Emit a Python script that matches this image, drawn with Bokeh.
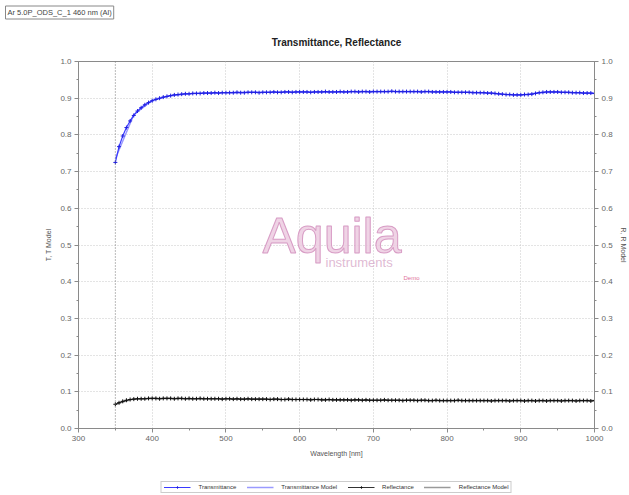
from bokeh.plotting import figure
from bokeh.layouts import column
from bokeh.models import (Range1d, LinearAxis, SingleIntervalTicker, Label, Span,
                          Legend, LegendItem, ColumnDataSource, Title, PrintfTickFormatter)
from bokeh.embed import file_html
from bokeh.resources import INLINE

# ---- measured spectra (5 nm steps, 350..1000 nm) ----
wavelength = list(range(350, 1001, 5))
transmittance = [
    0.725, 0.768, 0.797, 0.820, 0.838, 0.853, 0.865, 0.874, 0.882, 0.888,
    0.893, 0.897, 0.900, 0.903, 0.905, 0.907, 0.909, 0.910, 0.911, 0.912,
    0.912, 0.913, 0.913, 0.913, 0.914, 0.914, 0.914, 0.915, 0.914, 0.915,
    0.915, 0.915, 0.915, 0.916, 0.915, 0.915, 0.916, 0.916, 0.916, 0.915,
    0.916, 0.916, 0.916, 0.917, 0.916, 0.916, 0.917, 0.917, 0.916, 0.917,
    0.917, 0.917, 0.917, 0.916, 0.917, 0.917, 0.917, 0.918, 0.917, 0.917,
    0.917, 0.918, 0.917, 0.917, 0.918, 0.918, 0.917, 0.918, 0.918, 0.917,
    0.918, 0.918, 0.918, 0.918, 0.918, 0.919, 0.918, 0.918, 0.918, 0.918,
    0.918, 0.918, 0.918, 0.917, 0.918, 0.918, 0.917, 0.917, 0.917, 0.917,
    0.917, 0.917, 0.916, 0.916, 0.916, 0.916, 0.916, 0.915, 0.915, 0.915,
    0.915, 0.914, 0.914, 0.913, 0.912, 0.911, 0.910, 0.910, 0.909, 0.909,
    0.909, 0.910, 0.910, 0.911, 0.913, 0.915, 0.916, 0.917, 0.917, 0.917,
    0.917, 0.916, 0.916, 0.916, 0.915, 0.915, 0.915, 0.914, 0.914, 0.914,
    0.913,
]
reflectance = [
    0.066, 0.070, 0.074, 0.077, 0.079, 0.080, 0.081, 0.081, 0.081, 0.082,
    0.082, 0.082, 0.081, 0.082, 0.082, 0.082, 0.081, 0.082, 0.082, 0.081,
    0.082, 0.081, 0.081, 0.082, 0.081, 0.081, 0.081, 0.081, 0.081, 0.080,
    0.081, 0.081, 0.080, 0.081, 0.080, 0.080, 0.081, 0.080, 0.080, 0.080,
    0.080, 0.080, 0.079, 0.080, 0.080, 0.079, 0.079, 0.080, 0.079, 0.079,
    0.079, 0.079, 0.079, 0.078, 0.079, 0.079, 0.078, 0.078, 0.079, 0.078,
    0.078, 0.078, 0.078, 0.078, 0.077, 0.078, 0.078, 0.077, 0.078, 0.077,
    0.077, 0.077, 0.077, 0.078, 0.077, 0.077, 0.077, 0.077, 0.076, 0.077,
    0.077, 0.077, 0.076, 0.077, 0.077, 0.076, 0.076, 0.077, 0.076, 0.076,
    0.076, 0.076, 0.076, 0.077, 0.076, 0.076, 0.076, 0.076, 0.076, 0.076,
    0.076, 0.076, 0.075, 0.076, 0.076, 0.076, 0.076, 0.075, 0.076, 0.076,
    0.076, 0.075, 0.076, 0.076, 0.075, 0.076, 0.076, 0.075, 0.076, 0.076,
    0.076, 0.075, 0.076, 0.076, 0.076, 0.075, 0.076, 0.076, 0.076, 0.075,
    0.076,
]

# ---- fitted model (25 nm steps) ----
model_wavelength = [350, 375, 400, 425, 450, 475, 500, 525, 550, 575, 600, 625, 650,
                    675, 700, 725, 750, 775, 800, 825, 850, 875, 900, 925, 950, 975, 1000]
transmittance_model = [0.735, 0.855, 0.894, 0.907, 0.912, 0.914, 0.915, 0.916, 0.916,
                       0.917, 0.917, 0.917, 0.917, 0.918, 0.918, 0.918, 0.918, 0.918,
                       0.917, 0.916, 0.915, 0.911, 0.909, 0.915, 0.917, 0.915, 0.913]
reflectance_model = [0.067, 0.080, 0.082, 0.082, 0.081, 0.081, 0.081, 0.080, 0.080,
                     0.079, 0.079, 0.079, 0.078, 0.078, 0.077, 0.077, 0.077, 0.076,
                     0.076, 0.076, 0.076, 0.076, 0.076, 0.076, 0.076, 0.076, 0.076]

series_names = ["Transmittance", "Transmittance Model", "Reflectance", "Reflectance Model"]

x_ticks_start, x_ticks_end = 300, 1000
measure_start_nm = 350
title_text = "Transmittance, Reflectance"
sample_text = "Ar 5.0P_ODS_C_1 460 nm (Al)"

FONT = "Liberation Sans"
AXIS_GREY = "#8a8a8a"
TICK_TEXT = "#666666"
T_COLOR, T_MARK, TM_COLOR = "#3a3aff", "#2020e0", "#9a9aff"
R_COLOR, R_MARK, RM_COLOR = "#333333", "#111111", "#9a9a9a"

p = figure(width=629, height=478, output_backend="svg", toolbar_location=None,
           x_range=Range1d(x_ticks_start, x_ticks_end), y_range=Range1d(0, 1),
           min_border_left=78, min_border_right=28, min_border_top=61, min_border_bottom=50,
           background_fill_color="white", border_fill_color="white",
           outline_line_color=AXIS_GREY, outline_line_width=1)
p.extra_y_ranges = {"r": Range1d(0, 1)}

# sample tag at the very top, chart title below it (closest to the frame)
p.title.text = sample_text
p.title.align = "left"
p.title.offset = -73
p.title.standoff = 5
p.title.text_font = FONT
p.title.text_font_size = "7.5px"
p.title.text_font_style = "normal"
p.title.text_color = "#444444"
p.title.border_line_color = "#888888"
p.title.background_fill_color = "white"
p.title.padding = 2
p.add_layout(Title(text=title_text, align="center", standoff=27,
                   text_font=FONT, text_font_size="10px", text_font_style="bold",
                   text_color="#222222"), "above")

x_ticker = SingleIntervalTicker(interval=100, num_minor_ticks=2)
y_ticker = SingleIntervalTicker(interval=0.1, num_minor_ticks=2)

p.xaxis.ticker = x_ticker
p.yaxis.ticker = y_ticker
p.xaxis.axis_label = "Wavelength [nm]"
p.yaxis.axis_label = "T, T Model"

right_axis = LinearAxis(y_range_name="r", ticker=y_ticker, axis_label="R, R Model")
p.add_layout(right_axis, "right")

for ax in p.xaxis + p.yaxis + [right_axis]:
    ax.axis_line_color = AXIS_GREY
    ax.major_tick_line_color = AXIS_GREY
    ax.minor_tick_line_color = AXIS_GREY
    ax.major_tick_out = 4
    ax.major_tick_in = 0
    ax.minor_tick_out = 2
    ax.minor_tick_in = 0
    ax.major_label_text_font = FONT
    ax.major_label_text_font_size = "8px"
    ax.major_label_text_color = TICK_TEXT
    ax.axis_label_text_font = FONT
    ax.axis_label_text_font_size = "7px"
    ax.axis_label_text_font_style = "normal"
    ax.axis_label_text_color = "#555555"
    ax.major_label_standoff = 3

for ax in p.yaxis + [right_axis]:
    ax.formatter = PrintfTickFormatter(format="%.1f")
p.yaxis[0].axis_label_standoff = 5
right_axis.axis_label_standoff = 4
p.xaxis.axis_label_standoff = 6

p.xgrid.ticker = x_ticker
p.ygrid.ticker = y_ticker
for g in (p.xgrid, p.ygrid):
    g.grid_line_color = "#c8c8c8"
    g.grid_line_dash = "1 2"
    g.grid_line_width = 1

# start of the measured range
p.add_layout(Span(location=measure_start_nm, dimension="height",
                  line_color="#777777", line_dash="1 2", line_width=1))

src = ColumnDataSource(dict(wl=wavelength, t=transmittance, r=reflectance))
msrc = ColumnDataSource(dict(wl=model_wavelength, t=transmittance_model, r=reflectance_model))

# watermark
p.add_layout(Label(x=184, y=193, x_units="screen", y_units="screen", text="Aquila",
                   text_font=FONT, text_font_size="50px", text_color="#eccbe0",
                   text_outline_color="#d28fbd", text_alpha=0.85,
                   text_baseline="alphabetic"))
p.add_layout(Label(x=247, y=166, x_units="screen", y_units="screen", text="instruments",
                   text_font=FONT, text_font_size="13px", text_color="#d7a8c8",
                   text_alpha=0.8, text_baseline="middle"))
p.add_layout(Label(x=325, y=151, x_units="screen", y_units="screen", text="Demo",
                   text_font=FONT, text_font_size="6px", text_color="#e0709a",
                   text_baseline="middle"))

p.line("wl", "t", source=msrc, line_color=TM_COLOR, line_width=1.5)
p.line("wl", "r", source=msrc, line_color=RM_COLOR, line_width=1.5)
p.line("wl", "t", source=src, line_color=T_COLOR, line_width=1.2)
p.scatter("wl", "t", source=src, marker="cross", size=4, line_color=T_MARK)
p.line("wl", "r", source=src, line_color=R_COLOR, line_width=1.2)
p.scatter("wl", "r", source=src, marker="cross", size=4, line_color=R_MARK)

# legend strip underneath the chart; its stand-in renderers sit outside the strip's view
lp = figure(width=629, height=17, output_backend="svg", toolbar_location=None,
            x_range=Range1d(0, 1), y_range=Range1d(0, 1),
            min_border=0, outline_line_color=None,
            background_fill_color="white", border_fill_color="white")
lp.axis.visible = False
lp.grid.visible = False
offview = ColumnDataSource(dict(x=[-10, -9], y=[-10, -10]))
lt = [lp.line("x", "y", source=offview, line_color=T_COLOR, line_width=1.2),
      lp.scatter("x", "y", source=offview, marker="cross", size=4, line_color=T_MARK)]
ltm = [lp.line("x", "y", source=offview, line_color=TM_COLOR, line_width=1.5)]
lr = [lp.line("x", "y", source=offview, line_color=R_COLOR, line_width=1.2),
      lp.scatter("x", "y", source=offview, marker="cross", size=4, line_color=R_MARK)]
lrm = [lp.line("x", "y", source=offview, line_color=RM_COLOR, line_width=1.5)]

legend = Legend(items=[LegendItem(label=n, renderers=r)
                       for n, r in zip(series_names, [lt, ltm, lr, lrm])],
                orientation="horizontal", location="center",
                label_text_font=FONT, label_text_font_size="6px", label_text_color="#333333",
                glyph_width=27, glyph_height=6, label_standoff=8, spacing=10,
                padding=2, margin=0, border_line_color="#999999", border_line_width=1,
                background_fill_color="white", background_fill_alpha=1.0,
                label_height=6)
lp.add_layout(legend, "center")

layout = column(p, lp, spacing=0)
open("out.html", "w").write(file_html(layout, INLINE))
